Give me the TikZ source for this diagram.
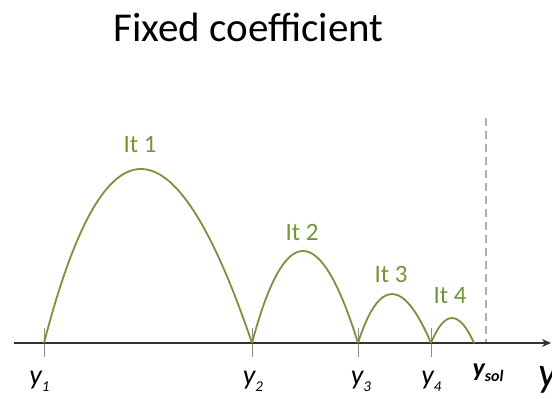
\documentclass[tikz,border=0pt]{standalone}
\usepackage{fontspec}
\setmainfont{Carlito}
\usetikzlibrary{arrows.meta}
\definecolor{iterGreen}{RGB}{119,147,60}
\definecolor{tickGray}{RGB}{140,140,140}
\definecolor{solGray}{RGB}{175,175,175}
\newcommand{\ysub}[1]{\itshape y\raisebox{-7pt}{\fontsize{15}{15}\selectfont #1}}

\begin{document}
\begin{tikzpicture}[
  x=1pt, y=-1pt,
  hop/.style={draw=iterGreen, line width=1.8pt},
  itlabel/.style={
    text=iterGreen,
    font=\fontsize{25}{30}\selectfont,
    anchor=base,
    inner sep=0pt
  },
  ticklabel/.style={
    font=\fontsize{28}{32}\selectfont,
    anchor=base,
    inner sep=0pt
  },
  tickmark/.style={draw=tickGray, line width=0.9pt}
]
  \useasboundingbox (0,0) rectangle (552,399);
  \node[anchor=base,inner sep=0pt,font=\fontsize{41}{48}\selectfont] (title) at (248.5,41)
    {Fixed coefficient};

  % points on the axis
  \coordinate (axstart) at (14,343);
  \coordinate (axend) at (551,343);
  \coordinate (p1) at (44,343);
  \coordinate (p2) at (252,343);
  \coordinate (p3) at (358,343);
  \coordinate (p4) at (431,343);
  \coordinate (end4) at (474,343);
  \coordinate (sol) at (486,343);
  \coordinate (soltop) at (486,118);

  \draw[solGray,line width=1.8pt,dash pattern=on 8pt off 5pt] (soltop) -- (sol);
  \foreach \p in {p1,p2,p3,p4}
    \draw[tickmark] (\p) ++(0,-15) -- ++(0,29);
  \draw[black!80,line width=1.8pt,-{Stealth[length=9pt,width=8pt]}] (axstart) -- (axend);

  % iterations
  \draw[hop] (p1) .. controls +(60,-232) and +(-78.7,-232) .. (p2);
  \draw[hop] (p2) .. controls +(32.7,-122.7) and +(-38,-122.7) .. (p3);
  \draw[hop] (p3) .. controls +(21,-65.3) and +(-27.7,-65.3) .. (p4);
  \draw[hop] (p4) .. controls +(13.7,-33.3) and +(-15,-33.3) .. (end4);

  \node[itlabel] (it1) at (140,152) {It 1};
  \node[itlabel] (it2) at (302,240) {It 2};
  \node[itlabel] (it3) at (391,282) {It 3};
  \node[itlabel] (it4) at (450,303) {It 4};

  \node[ticklabel] (ly1) at (39.5,384) {\ysub{1}};
  \node[ticklabel] (ly2) at (253,384) {\ysub{2}};
  \node[ticklabel] (ly3) at (361,384) {\ysub{3}};
  \node[ticklabel] (ly4) at (431.5,384) {\ysub{4}};
  \node[ticklabel,font=\bfseries\fontsize{26}{30}\selectfont] (lsol) at (488,376)
    {\itshape y\raisebox{-5pt}{\fontsize{16}{16}\selectfont sol}};
  \node[anchor=base west,inner sep=0pt,font=\itshape\fontsize{42}{48}\selectfont] (laxis) at (538,386) {y};
\end{tikzpicture}
\end{document}
